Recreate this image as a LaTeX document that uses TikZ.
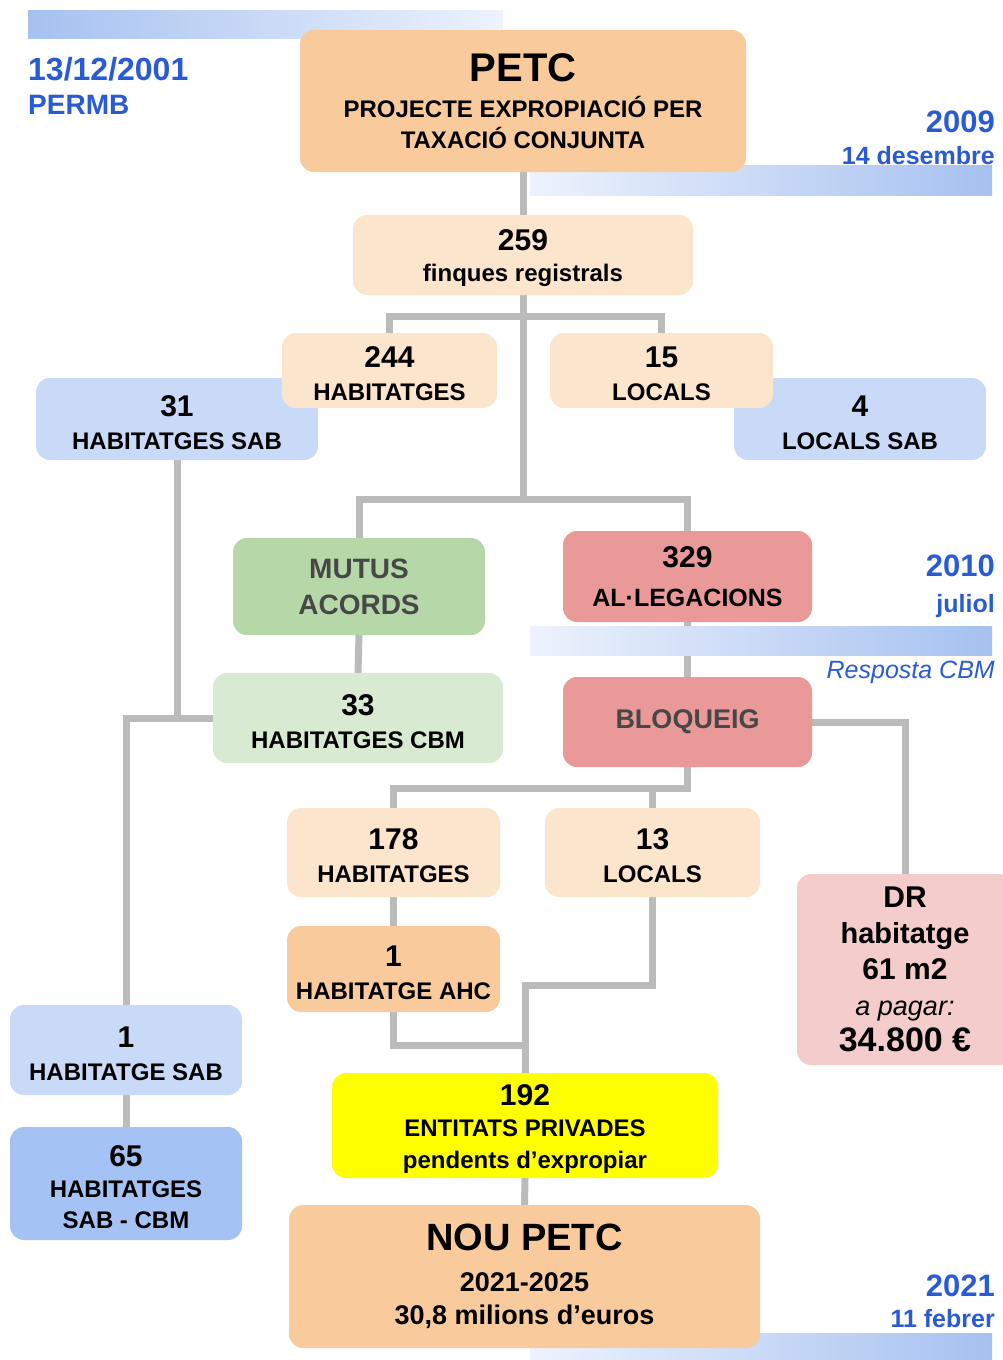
\documentclass[tikz,border=0pt]{standalone}
\usepackage{fontspec}
\setmainfont{Liberation Sans}
\definecolor{pkD}{HTML}{F9CB9C}
\definecolor{pkL}{HTML}{FCE5CD}
\definecolor{blL}{HTML}{C9DAF8}
\definecolor{blD}{HTML}{A4C2F4}
\definecolor{grD}{HTML}{B6D7A8}
\definecolor{grL}{HTML}{D9EAD3}
\definecolor{rdD}{HTML}{EA9999}
\definecolor{rdL}{HTML}{F4CCCC}
\definecolor{ylw}{HTML}{FFFF00}
\definecolor{linegray}{HTML}{BBBBBB}
\definecolor{dateblue}{HTML}{2A5BD7}
\definecolor{barD}{HTML}{A6C1F0}
\definecolor{barL}{HTML}{EDF2FD}
\definecolor{txtgray}{HTML}{474747}
\newcommand\bignum[1]{{\fontsize{30}{33}\selectfont\rule{0pt}{27.5pt}#1}}
\newcommand\plainnum[1]{{\fontsize{30}{33}\selectfont #1}}
\pgfdeclarelayer{bgwhite}
\pgfdeclarelayer{lines}
\pgfdeclarelayer{bars}
\pgfsetlayers{bgwhite,lines,bars,main}
\tikzset{
  box/.style={rounded corners=14pt, inner sep=0pt, align=center,
    font=\bfseries\fontsize{24}{33}\selectfont},
  conn/.style={draw=linegray, line width=7pt, line cap=rect},
  datetxt/.style={text=dateblue, inner sep=0pt, font=\bfseries\fontsize{31}{36}\selectfont},
  datesub/.style={text=dateblue, inner sep=0pt, font=\bfseries\fontsize{25}{30}\selectfont},
}
\begin{document}
\begin{tikzpicture}[x=1pt,y=-1pt]
\begin{pgfonlayer}{bgwhite}
\fill[white] (0,0) rectangle (1002,1360);
\end{pgfonlayer}
\useasboundingbox (0,0) rectangle (1002,1360);

% gradient bars
\begin{pgfonlayer}{bars}
\shade[left color=barD, right color=barL] (28,10) rectangle (503,38);
\shade[left color=barL, right color=barD] (530,165) rectangle (992,195);
\shade[left color=barL, right color=barD] (530,626) rectangle (992,655);
\shade[left color=barL, right color=barD] (530,1333) rectangle (992,1360);
\end{pgfonlayer}

% dates
\node[datetxt, anchor=base west, font=\bfseries\fontsize{32}{36}\selectfont] (d2001) at (28,80) {13/12/2001};
\node[datetxt, anchor=base west, font=\bfseries\fontsize{28}{32}\selectfont] (dpermb) at (28,114) {PERMB};
\node[datetxt, anchor=base east] (d2009) at (995,132) {2009};
\node[datesub, anchor=base east] (d2009b) at (995,164) {14 desembre};
\node[datetxt, anchor=base east] (d2010) at (995,576) {2010};
\node[datesub, anchor=base east] (d2010b) at (995,612) {juliol};
\node[datesub, anchor=base east, font=\itshape\fontsize{25}{30}\selectfont] (dresp) at (995,678) {Resposta CBM};
\node[datetxt, anchor=base east] (d2021) at (995,1296) {2021};
\node[datesub, anchor=base east] (d2021b) at (995,1327) {11 febrer};

% boxes
\node[box, fill=pkD, minimum width=446pt, minimum height=142pt, font=\bfseries\fontsize{24}{31}\selectfont] (petc) at (523,101)
  {{\fontsize{40}{31}\selectfont PETC}\\[5.6pt] PROJECTE EXPROPIACIÓ PER\\ TAXACIÓ CONJUNTA};
\node[box, fill=pkL, minimum width=340pt, minimum height=80pt, font=\bfseries\fontsize{24}{31}\selectfont] (f259) at (523,255)
  {\bignum{259}\\ finques registrals};
\node[box, fill=blL, minimum width=282pt, minimum height=82pt] (s31) at (177,419)
  {\bignum{31}\\ HABITATGES SAB};
\node[box, fill=blL, minimum width=252pt, minimum height=82pt] (s4) at (860,419)
  {\bignum{4}\\ LOCALS SAB};
\node[box, fill=pkL, minimum width=215pt, minimum height=75pt] (h244) at (389.5,370.5)
  {\bignum{244}\\ HABITATGES};
\node[box, fill=pkL, minimum width=223pt, minimum height=75pt] (l15) at (661.5,370.5)
  {\bignum{15}\\ LOCALS};
\node[box, fill=grD, minimum width=252pt, minimum height=97pt, text=txtgray, font=\bfseries\fontsize{28}{36}\selectfont] (mutus) at (359,586.5)
  {MUTUS\\ ACORDS};
\node[box, fill=rdD, minimum width=249pt, minimum height=91pt, font=\bfseries\fontsize{25}{33}\selectfont] (al329) at (687.5,576.5)
  {\plainnum{329}\\[6pt] AL·LEGACIONS};
\node[box, fill=grL, minimum width=290pt, minimum height=90pt] (c33) at (358,718)
  {\bignum{33}\\ HABITATGES CBM};
\node[box, fill=rdD, minimum width=249pt, minimum height=90pt, text=txtgray, font=\bfseries\fontsize{27}{33}\selectfont] (bloq) at (687.5,722)
  {BLOQUEIG};
\node[box, fill=pkL, minimum width=213pt, minimum height=89pt] (h178) at (393.5,852.5)
  {\bignum{178}\\ HABITATGES};
\node[box, fill=pkL, minimum width=215pt, minimum height=89pt] (l13) at (652.5,852.5)
  {\bignum{13}\\ LOCALS};
\node[box, fill=pkD, minimum width=213pt, minimum height=86pt] (ahc) at (393.5,969)
  {\bignum{1}\\ HABITATGE AHC};
\node[box, fill=rdL, minimum width=216pt, minimum height=191pt, font=\bfseries\fontsize{29}{36}\selectfont] (dr) at (905,969.5)
  {{\fontsize{30}{36}\selectfont DR}\\ habitatge\\ {\fontsize{30}{36}\selectfont 61 m2}\\ {\mdseries\itshape\fontsize{27}{36}\selectfont a pagar:}\\ {\fontsize{34}{36}\selectfont 34.800 €}};
\node[box, fill=blL, minimum width=232pt, minimum height=90pt] (sab1) at (126,1050)
  {\bignum{1}\\ HABITATGE SAB};
\node[box, fill=blD, minimum width=232pt, minimum height=113pt, font=\bfseries\fontsize{24}{31}\selectfont] (s65) at (126,1183.5)
  {\bignum{65}\\ HABITATGES\\ SAB - CBM};
\node[box, fill=ylw, minimum width=386pt, minimum height=105pt, font=\bfseries\fontsize{24}{31.5}\selectfont] (e192) at (525,1125.5)
  {\bignum{192}\\ ENTITATS PRIVADES\\ pendents d’expropiar};
\node[box, fill=pkD, minimum width=471pt, minimum height=143pt, font=\bfseries\fontsize{27}{33}\selectfont] (nou) at (524.5,1276.5)
  {{\fontsize{38}{33}\selectfont NOU PETC}\\[8pt] 2021-2025\\ 30,8 milions d’euros};

% connectors
\begin{pgfonlayer}{lines}
\coordinate (j1) at (523,499);
\coordinate (j2) at (523,316);
\coordinate (j3) at (687.5,788);
\coordinate (j4) at (525,1045);
\coordinate (j5) at (525,985);
\draw[conn] (petc.south) -- (f259.north);
\draw[conn] (f259.south) -- (j1);
\draw[conn] (h244.north) -- (h244.north |- j2) -- (l15.north |- j2) -- (l15.north);
\draw[conn] (mutus.north) -- (mutus.north |- j1) -- (al329.north |- j1) -- (al329.north);
\draw[conn] (s31.south) -- (s31.south |- c33.west);
\draw[conn] (c33.west) -| (sab1.north);
\draw[conn] (mutus.south) -- (c33.north);
\draw[conn] (al329.south) -- (bloq.north);
\draw[conn] (bloq.east) -| (dr.north);
\draw[conn] (bloq.south) -- (j3);
\draw[conn] (h178.north) |- (j3);
\draw[conn] (l13.north) -- (l13.north |- j3);
\draw[conn] (h178.south) -- (ahc.north);
\draw[conn] (ahc.south) |- (j4);
\draw[conn] (l13.south) |- (j5) -- (e192.north);
\draw[conn] (e192.south) -- (nou.north);
\draw[conn] (sab1.south) -- (s65.north);
\end{pgfonlayer}
\end{tikzpicture}
\end{document}
